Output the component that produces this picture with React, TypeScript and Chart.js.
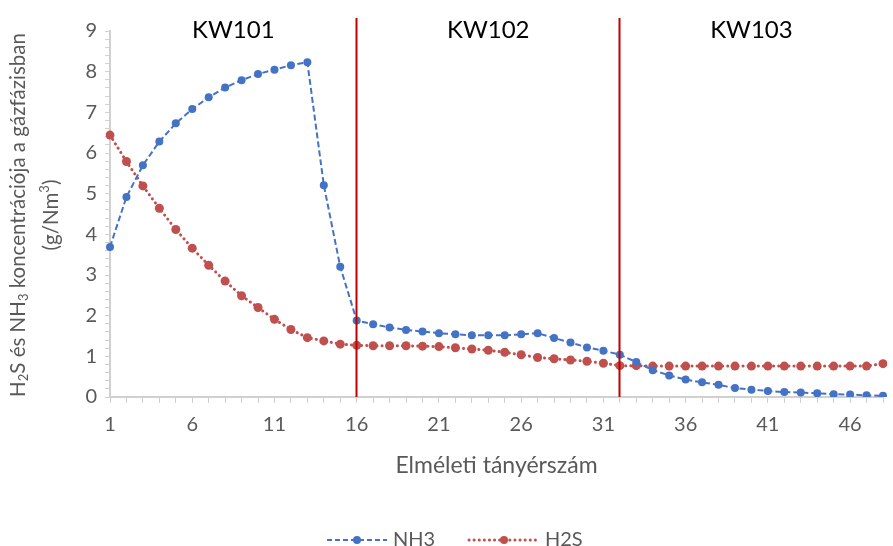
import React, { useEffect, useRef } from "react";
import { Chart, registerables } from "chart.js";

Chart.register(...registerables);

// Theoretical tray numbers 1..48
const trays: string[] = Array.from({ length: 48 }, (_, i) => String(i + 1));

// NH3 concentration in the gas phase (g/Nm3)
const nh3: number[] = [
  3.69, 4.92, 5.7, 6.28, 6.73, 7.08, 7.37, 7.61, 7.79, 7.94, 8.05, 8.16, 8.23,
  5.21, 3.2, 1.88, 1.79, 1.71, 1.65, 1.61, 1.57, 1.54, 1.52, 1.52, 1.52, 1.54,
  1.57, 1.45, 1.34, 1.22, 1.14, 1.04, 0.86, 0.66, 0.53, 0.43, 0.36, 0.3, 0.22,
  0.18, 0.15, 0.12, 0.11, 0.09, 0.07, 0.06, 0.04, 0.03,
];

// H2S concentration in the gas phase (g/Nm3)
const h2s: number[] = [
  6.44, 5.79, 5.19, 4.64, 4.12, 3.66, 3.24, 2.85, 2.49, 2.2, 1.91, 1.66, 1.46,
  1.38, 1.3, 1.27, 1.26, 1.26, 1.26, 1.25, 1.24, 1.21, 1.18, 1.15, 1.1, 1.04,
  0.97, 0.94, 0.91, 0.88, 0.83, 0.77, 0.77, 0.76, 0.76, 0.76, 0.76, 0.76, 0.76,
  0.76, 0.76, 0.76, 0.76, 0.76, 0.76, 0.76, 0.76, 0.82,
];

// Column sections and the trays where one column hands over to the next
const columns: string[] = ["KW101", "KW102", "KW103"];
const columnBounds: number[] = [1, 16, 32, 48];

const FONT = "Lato, 'Open Sans', sans-serif";
const GREY_TEXT = "#595959";
const AXIS_GREY = "#d0d0d0";
const BLUE = "#4472c4";
const RED = "#c0504d";

type Seg = { t: string; mode?: "sub" | "sup" };

function drawRich(
  ctx: CanvasRenderingContext2D,
  segs: Seg[],
  size: number,
  cx: number,
  cy: number
) {
  const small = Math.round(size * 0.65);
  const widths = segs.map((s) => {
    ctx.font = `${s.mode ? small : size}px ${FONT}`;
    return ctx.measureText(s.t).width;
  });
  const total = widths.reduce((a, b) => a + b, 0);
  let x = cx - total / 2;
  ctx.textBaseline = "middle";
  ctx.textAlign = "left";
  segs.forEach((s, i) => {
    ctx.font = `${s.mode ? small : size}px ${FONT}`;
    const dy = s.mode === "sub" ? size * 0.28 : s.mode === "sup" ? -size * 0.3 : 0;
    ctx.fillText(s.t, x, cy + dy);
    x += widths[i];
  });
}

const decorPlugin = {
  id: "decor",
  afterDatasetsDraw(chart: any) {
    const { ctx, chartArea, scales } = chart;
    const xs = scales.x;
    ctx.save();

    // column boundaries
    ctx.strokeStyle = "#c00000";
    ctx.lineWidth = 2;
    columnBounds.slice(1, -1).forEach((b) => {
      const px = Math.round(xs.getPixelForValue(b - 1)) - 0.5;
      ctx.beginPath();
      ctx.moveTo(px, 18);
      ctx.lineTo(px, chartArea.bottom);
      ctx.stroke();
    });

    // column names
    ctx.fillStyle = "#000";
    ctx.font = `24px ${FONT}`;
    ctx.textAlign = "center";
    ctx.textBaseline = "middle";
    columns.forEach((name, i) => {
      const mid = (columnBounds[i] + columnBounds[i + 1]) / 2 - 1;
      ctx.fillText(name, xs.getPixelForValue(mid), 30);
    });

    // axis titles
    ctx.fillStyle = GREY_TEXT;
    ctx.font = `23px ${FONT}`;
    ctx.textAlign = "center";
    ctx.fillText(
      "Elméleti tányérszám",
      (chartArea.left + chartArea.right) / 2,
      466
    );

    ctx.save();
    ctx.rotate(-Math.PI / 2);
    const cyTitle = -215;
    drawRich(
      ctx,
      [
        { t: "H" },
        { t: "2", mode: "sub" },
        { t: "S és NH" },
        { t: "3", mode: "sub" },
        { t: " koncentrációja a gázfázisban" },
      ],
      20.5,
      cyTitle,
      18
    );
    drawRich(
      ctx,
      [{ t: "(g/Nm" }, { t: "3", mode: "sup" }, { t: ")" }],
      20.5,
      cyTitle,
      51
    );
    ctx.restore();

    // legend
    const ly = 540;
    const drawEntry = (
      x0: number,
      x1: number,
      color: string,
      dash: number[],
      width: number,
      label: string
    ) => {
      ctx.strokeStyle = color;
      ctx.lineWidth = width;
      ctx.lineCap = dash[0] < 3 ? "round" : "butt";
      ctx.setLineDash(dash);
      ctx.beginPath();
      ctx.moveTo(x0, ly);
      ctx.lineTo(x1, ly);
      ctx.stroke();
      ctx.setLineDash([]);
      ctx.fillStyle = color;
      ctx.beginPath();
      ctx.arc((x0 + x1) / 2, ly, 4, 0, Math.PI * 2);
      ctx.fill();
      ctx.fillStyle = GREY_TEXT;
      ctx.font = `20px ${FONT}`;
      ctx.textAlign = "left";
      ctx.textBaseline = "middle";
      ctx.fillText(label, x1 + 6, ly);
    };
    drawEntry(327, 387, BLUE, [5, 3], 2, "NH3");
    drawEntry(469, 539, RED, [0.1, 5], 3, "H2S");

    ctx.restore();
  },
};

export default function App() {
  const canvasRef = useRef<HTMLCanvasElement>(null);

  useEffect(() => {
    if (!canvasRef.current) return;
    const chart = new Chart(canvasRef.current, {
      type: "line",
      data: {
        labels: trays,
        datasets: [
          {
            label: "NH3",
            data: nh3,
            borderColor: BLUE,
            backgroundColor: BLUE,
            borderWidth: 2,
            borderDash: [6, 3],
            pointRadius: 4,
            pointBorderWidth: 0,
            tension: 0,
          },
          {
            label: "H2S",
            data: h2s,
            borderColor: RED,
            backgroundColor: RED,
            borderWidth: 3,
            borderDash: [0.1, 5],
            borderCapStyle: "round",
            pointRadius: 4.5,
            pointBorderWidth: 0,
            tension: 0,
          },
        ],
      },
      options: {
        animation: false,
        responsive: true,
        maintainAspectRatio: false,
        layout: { padding: { top: 31, right: 7, left: 0, bottom: 109 } },
        plugins: {
          legend: { display: false },
          tooltip: { enabled: false },
        },
        scales: {
          x: {
            type: "category",
            offset: false,
            afterFit: (s: any) => {
              s.height = 40;
            },
            border: { display: true, color: AXIS_GREY, width: 2 },
            grid: {
              display: true,
              drawOnChartArea: false,
              drawTicks: true,
              tickLength: 6,
              color: AXIS_GREY,
            },
            ticks: {
              autoSkip: false,
              maxRotation: 0,
              padding: 10,
              color: GREY_TEXT,
              font: { family: FONT, size: 20 },
              callback: (_v: any, i: number) => (i % 5 === 0 ? trays[i] : ""),
            },
          },
          y: {
            min: 0,
            max: 9,
            afterFit: (s: any) => {
              s.width = 110;
            },
            border: { display: true, color: AXIS_GREY, width: 2 },
            grid: {
              display: true,
              drawOnChartArea: false,
              drawTicks: true,
              tickLength: 5,
              color: AXIS_GREY,
            },
            ticks: {
              stepSize: 0.2,
              autoSkip: false,
              padding: 8,
              color: GREY_TEXT,
              font: { family: FONT, size: 20 },
              callback: (v: any) => {
                const n = Number(v);
                return Math.abs(n - Math.round(n)) < 1e-6 ? String(Math.round(n)) : "";
              },
            },
          },
        },
      },
      plugins: [decorPlugin],
    });
    return () => chart.destroy();
  }, []);

  return (
    <div style={{ position: "absolute", left: 0, top: 0, width: 893, height: 546, background: "#fff" }}>
      <canvas ref={canvasRef} />
    </div>
  );
}
